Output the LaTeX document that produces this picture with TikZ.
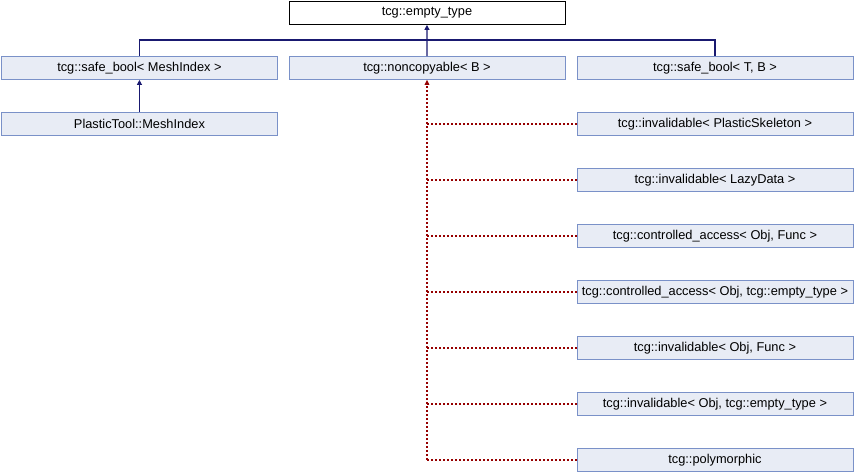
\documentclass[tikz,border=0pt]{standalone}
\usepackage{fontspec}
\setmainfont{Liberation Sans}
\usetikzlibrary{arrows.meta}
\definecolor{boxfill}{RGB}{232,236,245}
\definecolor{boxdraw}{RGB}{122,145,200}
\definecolor{inhblue}{RGB}{25,25,112}
\definecolor{inhred}{RGB}{150,0,0}
\begin{document}
\begin{tikzpicture}[x=1pt,y=-1pt,
  cls/.style={draw=boxdraw,fill=boxfill,line width=0.9pt,minimum width=276pt,minimum height=23pt,inner sep=0pt,font=\fontsize{12.8}{14}\selectfont,anchor=north west},
  topcls/.style={cls,draw=black,fill=white},
  pub/.style={draw=inhblue,line width=1.1pt},
  priv/.style={draw=inhred,line width=1.1pt,dash pattern=on 2pt off 2pt},
  tipblue/.style={-{Triangle[length=5pt,width=5pt]},pub},
  tipred/.style={priv,arrows={-{Triangle[length=5pt,width=5pt,fill=inhred,line width=0pt]}}}]
\useasboundingbox (0,0) rectangle (854,472);
\node[topcls] (top) at (288.5,1) {tcg::empty\_type};
\node[cls] (sbm) at (1,56) {tcg::safe\_bool< MeshIndex >};
\node[cls] (nc) at (288.5,56) {tcg::noncopyable< B >};
\node[cls] (sbt) at (576.5,56) {tcg::safe\_bool< T, B >};
\node[cls] (pmi) at (1,112) {PlasticTool::MeshIndex};
\node[cls] (r1) at (576.5,112) {tcg::invalidable< PlasticSkeleton >};
\node[cls] (r2) at (576.5,168) {tcg::invalidable< LazyData >};
\node[cls] (r3) at (576.5,224) {tcg::controlled\_access< Obj, Func >};
\node[cls] (r4) at (576.5,280) {tcg::controlled\_access< Obj, tcg::empty\_type >};
\node[cls] (r5) at (576.5,336) {tcg::invalidable< Obj, Func >};
\node[cls] (r6) at (576.5,392) {tcg::invalidable< Obj, tcg::empty\_type >};
\node[cls] (r7) at (576.5,448) {tcg::polymorphic};
\coordinate (bus) at (427,40);
\draw[pub] (sbm.north) |- (bus) -| (sbt.north);
\draw[pub] (nc.north) -- (bus);
\draw[tipblue] (bus) -- (top.south);
\draw[tipblue] (pmi.north) -- (sbm.south);
\coordinate (bot) at (nc.south |- r7.west);
\draw[priv] (r7.west) -- (bot);
\draw[tipred] (bot) -- (nc.south);
\foreach \r in {r1,r2,r3,r4,r5,r6}{
  \draw[priv] (\r.west) -- (nc.south |- \r.west);
}
\end{tikzpicture}
\end{document}
